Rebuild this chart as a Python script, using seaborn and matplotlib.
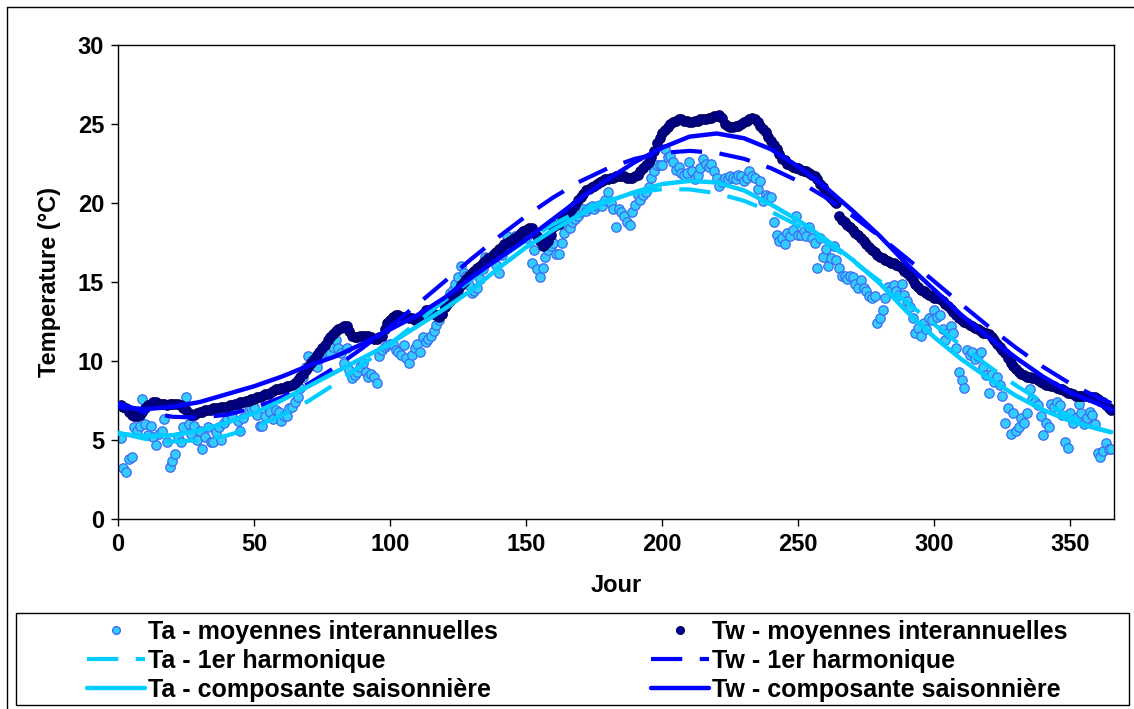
import numpy as np
import pandas as pd
import matplotlib
matplotlib.use("Agg")
import matplotlib.pyplot as plt
import seaborn as sns
from matplotlib.lines import Line2D
from matplotlib.patches import Rectangle

# ---------------- data ----------------
days = list(range(1, 366))

ta_daily = [
    5.1, 3.2, 3.0, 3.8, 3.9, 5.8, 5.6, 5.9, 7.6, 6.0,
    5.3, 5.9, 5.2, 4.7, 5.4, 5.6, 6.3, 4.9, 3.3, 3.7,
    4.1, 5.2, 4.9, 5.8, 7.7, 6.0, 5.4, 5.9, 5.0, 5.6,
    4.4, 5.2, 5.8, 4.9, 4.9, 5.5, 5.8, 5.0, 6.1, 6.3,
    6.9, 6.5, 7.1, 6.2, 5.6, 6.4, 7.4, 6.9, 7.0, 7.1,
    6.6, 5.9, 5.9, 6.5, 7.1, 6.8, 6.3, 6.9, 6.8, 6.2,
    6.5, 6.5, 7.0, 7.1, 7.4, 7.7, 8.3, 9.0, 9.6, 10.3,
    10.0, 9.8, 9.6, 10.1, 10.4, 10.6, 10.9, 10.5, 10.9, 11.3,
    10.8, 10.5, 9.9, 10.8, 9.4, 8.9, 9.1, 9.3, 9.6, 9.9,
    9.3, 9.0, 9.2, 9.0, 8.6, 10.3, 10.7, 10.9, 11.0, 11.1,
    11.1, 10.7, 10.6, 10.4, 11.0, 10.2, 9.9, 10.4, 10.8, 11.1,
    10.6, 11.5, 11.2, 11.4, 11.6, 11.9, 12.3, 12.6, 13.0, 13.4,
    13.8, 14.3, 14.5, 14.9, 15.3, 16.0, 15.6, 15.4, 14.8, 14.3,
    14.4, 14.6, 15.2, 15.8, 16.6, 16.4, 16.6, 16.3, 16.1, 15.6,
    16.7, 17.2, 17.9, 17.4, 17.6, 17.9, 17.8, 18.1, 18.0, 17.8,
    18.2, 16.2, 17.0, 15.8, 15.3, 15.9, 16.6, 17.0, 17.3, 17.5,
    16.8, 16.8, 17.5, 18.1, 18.6, 18.4, 18.8, 19.0, 19.2, 19.4,
    19.6, 19.5, 19.7, 19.8, 19.6, 19.8, 19.9, 19.8, 20.2, 20.7,
    20.0, 19.6, 18.5, 19.6, 19.4, 19.2, 18.8, 18.6, 19.4, 19.9,
    20.5, 20.2, 20.5, 20.7, 21.0, 21.6, 22.0, 22.4, 22.4, 22.4,
    23.4, 22.9, 23.0, 22.6, 22.1, 22.3, 21.9, 21.8, 21.9, 22.6,
    22.0, 21.5, 21.8, 22.2, 22.8, 22.5, 22.3, 22.5, 22.0, 21.6,
    21.1, 21.3, 21.6, 21.5, 21.7, 21.6, 21.5, 21.8, 21.7, 21.4,
    21.6, 22.0, 21.7, 21.6, 20.9, 21.4, 20.1, 20.5, 20.4, 20.4,
    18.8, 18.0, 17.6, 17.8, 17.4, 18.1, 17.9, 18.3, 19.2, 18.0,
    18.0, 18.2, 17.9, 18.5, 17.8, 17.5, 15.9, 17.8, 16.6, 17.1,
    16.0, 16.5, 17.3, 16.4, 15.9, 15.4, 15.4, 15.2, 15.4, 15.3,
    14.9, 14.6, 15.1, 14.6, 14.4, 14.1, 14.0, 14.1, 12.4, 12.7,
    13.2, 14.0, 14.7, 14.5, 14.8, 14.4, 14.2, 14.9, 14.2, 13.8,
    13.4, 12.7, 11.8, 12.1, 11.6, 12.4, 12.0, 12.7, 12.6, 13.2,
    12.8, 12.9, 12.0, 11.3, 11.8, 12.2, 11.8, 10.8, 9.3, 8.8,
    8.3, 10.7, 10.4, 10.6, 10.1, 10.3, 10.6, 9.6, 9.1, 8.0,
    9.2, 8.7, 9.0, 8.5, 7.8, 6.1, 7.0, 5.4, 6.7, 5.6,
    5.8, 6.4, 6.1, 6.7, 8.2, 7.6, 7.4, 7.2, 6.5, 5.3,
    6.1, 5.8, 7.3, 7.1, 7.4, 7.2, 6.6, 4.9, 4.5, 6.7,
    6.1, 6.4, 7.3, 6.7, 6.0, 6.4, 6.8, 6.6, 6.0, 4.2,
    3.9, 4.3, 4.8, 4.4, 4.4,
]

tw_daily = [
    7.2, 7.1, 7.0, 6.8, 6.6, 6.5, 6.5, 6.6, 6.8, 7.0,
    7.2, 7.3, 7.4, 7.4, 7.3, 7.3, 7.3, 7.2, 7.3, 7.3,
    7.3, 7.3, 7.2, 7.0, 6.9, 6.7, 6.6, 6.6, 6.7, 6.8,
    6.8, 6.9, 6.9, 6.9, 7.0, 7.0, 7.0, 7.1, 7.1, 7.1,
    7.2, 7.2, 7.3, 7.3, 7.4, 7.4, 7.5, 7.5, 7.6, 7.6,
    7.7, 7.7, 7.8, 7.9, 7.9, 8.0, 8.1, 8.2, 8.2, 8.3,
    8.3, 8.4, 8.4, 8.5, 8.6, 8.8, 9.0, 9.2, 9.4, 9.6,
    9.9, 10.1, 10.4, 10.6, 10.8, 11.0, 11.3, 11.5, 11.7, 11.9,
    12.0, 12.1, 12.2, 12.2, 11.9, 11.6, 11.5, 11.5, 11.6, 11.6,
    11.6, 11.6, 11.5, 11.4, 11.4, 11.5, 11.6, 12.0, 12.4, 12.6,
    12.8, 12.9, 12.9, 12.8, 12.8, 12.8, 12.7, 12.7, 12.6, 12.6,
    12.8, 13.0, 13.2, 13.2, 13.1, 13.0, 12.9, 12.8, 13.0, 13.4,
    13.6, 13.8, 14.0, 14.3, 14.5, 14.8, 15.0, 15.2, 15.4, 15.6,
    15.7, 15.9, 16.0, 16.2, 16.3, 16.5, 16.6, 16.8, 16.9, 17.1,
    17.2, 17.4, 17.5, 17.6, 17.7, 17.8, 17.9, 18.1, 18.2, 18.3,
    18.4, 18.4, 18.1, 17.9, 17.6, 17.3, 17.4, 17.6, 18.0, 18.5,
    18.6, 18.7, 18.9, 19.1, 19.3, 19.5, 19.7, 19.9, 20.2, 20.4,
    20.6, 20.8, 20.9, 21.0, 21.1, 21.2, 21.3, 21.4, 21.5, 21.5,
    21.6, 21.6, 21.7, 21.7, 21.7, 21.7, 21.6, 21.6, 21.6, 21.7,
    21.8, 22.0, 22.2, 22.4, 22.6, 22.9, 23.3, 23.8, 24.1, 24.4,
    24.6, 24.8, 25.0, 25.1, 25.2, 25.3, 25.3, 25.2, 25.2, 25.1,
    25.1, 25.2, 25.2, 25.3, 25.3, 25.3, 25.4, 25.4, 25.5, 25.5,
    25.6, 25.4, 25.0, 24.9, 24.8, 24.8, 24.9, 24.9, 25.0, 25.1,
    25.2, 25.3, 25.4, 25.3, 25.1, 24.9, 24.7, 24.5, 24.2, 23.9,
    23.7, 23.4, 23.1, 22.8, 22.7, 22.5, 22.4, 22.3, 22.2, 22.2,
    22.1, 22.0, 22.0, 21.9, 21.8, 21.7, 21.5, 21.2, 21.0, 20.7,
    20.5, 20.3, 20.1, 20.0, 19.2, 18.9, 18.8, 18.6, 18.5, 18.3,
    18.1, 18.0, 17.8, 17.6, 17.4, 17.2, 17.0, 16.9, 16.7, 16.6,
    16.5, 16.4, 16.3, 16.2, 16.2, 16.1, 16.0, 15.9, 15.7, 15.6,
    15.4, 15.1, 14.9, 14.7, 14.5, 14.4, 14.3, 14.2, 14.1, 14.0,
    14.0, 13.9, 13.8, 13.6, 13.5, 13.3, 13.1, 12.9, 12.7, 12.6,
    12.5, 12.4, 12.3, 12.2, 12.1, 12.0, 11.9, 11.8, 11.8, 11.7,
    11.5, 11.3, 11.1, 10.9, 10.7, 10.5, 10.2, 9.9, 9.7, 9.5,
    9.3, 9.2, 9.1, 9.0, 9.0, 8.9, 8.9, 8.8, 8.7, 8.6,
    8.5, 8.5, 8.4, 8.4, 8.3, 8.2, 8.2, 8.1, 8.0, 8.0,
    7.9, 7.8, 7.8, 7.8, 7.8, 7.8, 7.7, 7.7, 7.7, 7.6,
    7.5, 7.4, 7.2, 7.0, 6.9,
]

curve_days = [0, 10, 20, 30, 40, 50, 60, 70, 80, 90, 100, 110, 120, 130,
              140, 150, 160, 170, 180, 190, 200, 210, 220, 230, 240, 250,
              260, 270, 280, 290, 300, 310, 320, 330, 340, 350, 360, 365]

ta_harm = [5.47, 5.07, 4.90, 4.98, 5.28, 5.81, 6.55, 7.47, 8.57, 9.79,
           11.09, 12.45, 13.83, 15.17, 16.46, 17.62, 18.66, 19.53, 20.20,
           20.65, 20.88, 20.86, 20.62, 20.14, 19.45, 18.57, 17.52, 16.33,
           15.04, 13.69, 12.31, 10.95, 9.66, 8.45, 7.38, 6.47, 5.75, 5.47]

tw_harm = [7.33, 6.78, 6.47, 6.41, 6.60, 7.03, 7.69, 8.56, 9.62, 10.84,
           12.17, 13.58, 15.03, 16.48, 17.87, 19.18, 20.36, 21.38, 22.20,
           22.80, 23.17, 23.30, 23.17, 22.80, 22.20, 21.38, 20.36, 19.18,
           17.87, 16.48, 15.03, 13.58, 12.17, 10.84, 9.62, 8.56, 7.69, 7.33]

ta_seas = [5.4, 5.25, 5.3, 5.6, 6.1, 6.7, 7.5, 8.4, 9.3, 10.2, 11.1, 12.2,
           13.3, 14.5, 15.9, 17.2, 18.3, 19.3, 20.1, 20.7, 21.2, 21.4, 21.3,
           20.8, 19.9, 18.9, 17.7, 16.4, 14.9, 13.1, 11.5, 10.1, 8.9, 7.8,
           6.9, 6.2, 5.7, 5.5]

tw_seas = [7.1, 6.95, 7.1, 7.4, 7.9, 8.4, 9.0, 9.7, 10.3, 11.1, 12.0, 12.9,
           14.0, 15.3, 16.5, 17.7, 19.0, 20.3, 21.5, 22.6, 23.5, 24.2, 24.4,
           24.1, 23.4, 22.3, 21.0, 19.5, 17.9, 16.1, 14.5, 12.9, 11.5, 10.2,
           9.0, 8.0, 7.3, 6.9]

x_ticks = [0, 50, 100, 150, 200, 250, 300, 350]
y_ticks = [0, 5, 10, 15, 20, 25, 30]

labels = ["Ta - moyennes interannuelles", "Tw - moyennes interannuelles",
          "Ta - 1er harmonique", "Tw - 1er harmonique",
          "Ta - composante saisonnière", "Tw - composante saisonnière"]

# ---------------- style ----------------
sns.set_style("white")
plt.rcParams['font.family'] = ['Liberation Sans', 'DejaVu Sans']
plt.rcParams['font.weight'] = 'bold'
for k in ['text.color', 'axes.labelcolor', 'xtick.color', 'ytick.color']:
    plt.rcParams[k] = 'black'

TA_FILL, TA_EDGE = '#33CCFF', '#3D6BF0'
TW_FILL, TW_EDGE = '#000099', '#000060'
TA_LINE, TW_LINE = '#00CCFF', '#0000FF'
DASH = [7.5, 4.2]

W, H = 1134, 709
fig = plt.figure(figsize=(W / 100, H / 100), dpi=100)
ax = fig.add_axes([118 / W, 1 - 519 / H, (1114 - 118) / W, (519 - 45) / H])

df = pd.DataFrame({'Jour': days, 'Ta': ta_daily, 'Tw': tw_daily})
cdf = pd.DataFrame({'Jour': curve_days, 'ta_harm': ta_harm, 'tw_harm': tw_harm,
                    'ta_seas': ta_seas, 'tw_seas': tw_seas})

sns.scatterplot(data=df, x='Jour', y='Ta', ax=ax, s=46, color=TA_FILL,
                edgecolor=TA_EDGE, linewidth=0.9, zorder=2)
sns.scatterplot(data=df, x='Jour', y='Tw', ax=ax, s=46, color=TW_FILL,
                edgecolor=TW_EDGE, linewidth=0.9, zorder=3)

sns.lineplot(data=cdf, x='Jour', y='ta_harm', ax=ax, color=TA_LINE,
             linewidth=3.0, zorder=4)
ax.lines[-1].set_dashes(DASH)
sns.lineplot(data=cdf, x='Jour', y='tw_harm', ax=ax, color=TW_LINE,
             linewidth=3.0, zorder=4)
ax.lines[-1].set_dashes(DASH)
sns.lineplot(data=cdf, x='Jour', y='ta_seas', ax=ax, color=TA_LINE,
             linewidth=3.2, zorder=5)
sns.lineplot(data=cdf, x='Jour', y='tw_seas', ax=ax, color=TW_LINE,
             linewidth=3.2, zorder=5)

ax.set_xlim(0, 366)
ax.set_ylim(0, 30)
ax.set_xticks(x_ticks)
ax.set_yticks(y_ticks)
ax.tick_params(axis='both', labelsize=17, length=5, width=1, color='black',
               labelcolor='black', direction='out', pad=5, bottom=True, left=True)
for lab in ax.get_xticklabels() + ax.get_yticklabels():
    lab.set_fontweight('bold')
for sp in ax.spines.values():
    sp.set_color('black')
    sp.set_linewidth(1.0)
ax.set_xlabel("Jour", fontsize=17, fontweight='bold', labelpad=13, color='black')
ax.set_ylabel("Temperature (°C)", fontsize=17, fontweight='bold', labelpad=12,
              color='black')
ax.grid(False)

# ---------------- legend ----------------
h_ta_pts = Line2D([], [], marker='o', linestyle='none', markersize=5.5,
                  markerfacecolor=TA_FILL, markeredgecolor=TA_EDGE)
h_tw_pts = Line2D([], [], marker='o', linestyle='none', markersize=5.5,
                  markerfacecolor=TW_FILL, markeredgecolor=TW_EDGE)
h_ta_h = Line2D([], [], color=TA_LINE, linewidth=3.0, dashes=DASH)
h_tw_h = Line2D([], [], color=TW_LINE, linewidth=3.0, dashes=DASH)
h_ta_s = Line2D([], [], color=TA_LINE, linewidth=3.2)
h_tw_s = Line2D([], [], color=TW_LINE, linewidth=3.2)

fig.add_artist(Rectangle((16 / W, 1 - 705 / H), (1129 - 16) / W, (705 - 613) / H,
                         transform=fig.transFigure, fill=False,
                         edgecolor='black', linewidth=1.0))
# outer chart-area border (left & top)
fig.add_artist(Line2D([7 / W, 7 / W], [0, 1 - 7 / H], transform=fig.transFigure,
                      color='black', linewidth=1.0))
fig.add_artist(Line2D([7 / W, 1], [1 - 7 / H, 1 - 7 / H], transform=fig.transFigure,
                      color='black', linewidth=1.0))

leg_kw = dict(frameon=False, handlelength=2.3, handletextpad=0.15,
              labelspacing=0.2, borderpad=0, borderaxespad=0,
              loc='center left', prop={'weight': 'bold', 'size': 18},
              labelcolor='black')
leg1 = fig.legend([h_ta_pts, h_ta_h, h_ta_s], [labels[0], labels[2], labels[4]],
                  bbox_to_anchor=(87 / W, 1 - 661 / H), **leg_kw)
leg2 = fig.legend([h_tw_pts, h_tw_h, h_tw_s], [labels[1], labels[3], labels[5]],
                  bbox_to_anchor=(651 / W, 1 - 661 / H), **leg_kw)

fig.savefig("out.png", dpi=100)
